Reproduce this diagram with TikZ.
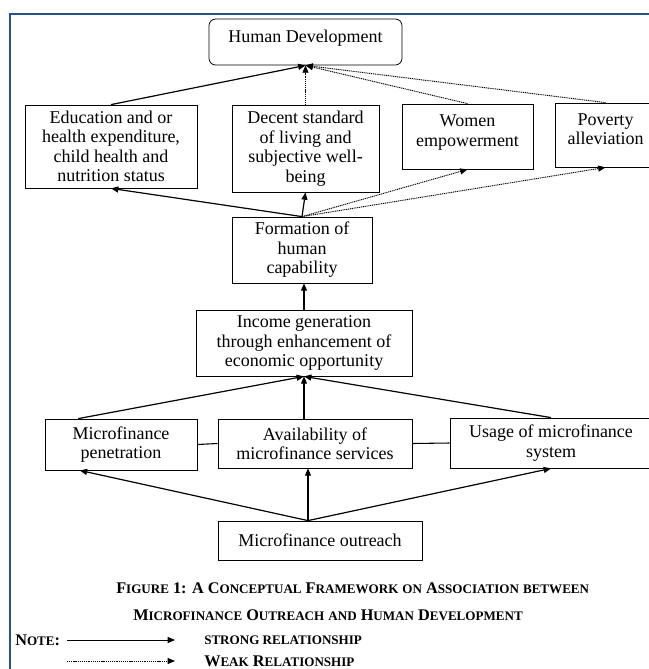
\documentclass[tikz,border=0pt]{standalone}
\usepackage{fontspec}
\setmainfont{Liberation Serif}
\usetikzlibrary{arrows.meta, calc}
\definecolor{frameblue}{RGB}{36, 82, 140}
\newcommand{\smcap}[1]{{\fontsize{9.8pt}{11pt}\selectfont\MakeUppercase{#1}}}

\begin{document}
\begin{tikzpicture}[x=0.75pt, y=-0.75pt,
  box/.style={draw, line width=0.6pt, inner sep=2pt, align=center, font=\fontsize{13.5pt}{14.6pt}\selectfont},
  strong/.style={-{Triangle[length=5.5pt, width=4.5pt]}, line width=0.9pt},
  weak/.style={-{Triangle[length=5.5pt, width=4.5pt]}, line width=0.7pt, dash pattern=on 0.8pt off 0.6pt},
  caption/.style={font=\fontsize{12.2pt}{13pt}\selectfont\bfseries, anchor=west, inner sep=0pt}]
  \useasboundingbox (0,0) rectangle (649,669);

  % frame
  \draw[frameblue, line width=1.6pt] (649,14) -- (10,14) -- (10,669);

  % outcome boxes
  \node[box, rounded corners=5pt, minimum width=144.75pt, minimum height=34.5pt, text height=13pt, text depth=12pt] (hd) at (305.5,42) {Human Development};
  \node[box, minimum width=129pt, minimum height=62.25pt] (edu) at (111,146.5) {Education and or\\health expenditure,\\child health and\\nutrition status};
  \node[box, minimum width=110.25pt, minimum height=65.25pt] (living) at (305.5,148.5) {Decent standard\\of living and\\subjective well-\\being};
  \node[box, minimum width=98.25pt, minimum height=48.75pt] (women) at (467.5,136.5) {Women\\empowerment\\[-6pt]\mbox{}};
  \node[box, minimum width=75.75pt, minimum height=48pt] (poverty) at (605.5,135) {Poverty\\alleviation\\[-6pt]\mbox{}};

  % middle chain
  \node[box, minimum width=105pt, minimum height=49.5pt] (capability) at (302,250) {Formation of\\human\\capability};
  \node[box, minimum width=162pt, minimum height=49.5pt] (income) at (304,343) {Income generation\\through enhancement of\\economic opportunity};

  % outreach dimensions
  \node[box, minimum width=114pt, minimum height=38.25pt] (penetration) at (121,444.5) {Microfinance\\penetration};
  \node[box, minimum width=145.5pt, minimum height=36.75pt] (availability) at (315,443.5) {Availability of\\microfinance services};
  \node[box, minimum width=151.5pt, minimum height=37.5pt] (usage) at (551,443) {Usage of microfinance\\system};
  \node[box, minimum width=153pt, minimum height=29.25pt] (outreach) at (320,540.5) {Microfinance outreach};

  % links to human development
  \draw[strong] (edu.north) -- (hd.south);
  \draw[weak] (living.north) -- (hd.south);
  \draw[weak] (women.north) -- (hd.south);
  \draw[weak] (poverty.north) -- (hd.south);

  % links from capability
  \draw[strong] (capability.north) -- (edu.south);
  \draw[strong] (capability.north) -- (living.south);
  \draw[weak] (capability.north) -- (women.south);
  \draw[weak] (capability.north) -- (poverty.south);
  \draw[strong] (income.north) -- (income.north |- capability.south);

  % links into income
  \draw[strong] ($(penetration.north west)!0.22!(penetration.north east)$) -- (income.south);
  \draw[strong] (income.south |- availability.north) -- (income.south);
  \draw[strong] (usage.north) -- (income.south);
  \draw[line width=0.8pt] (penetration.east) -- (availability.west);
  \draw[line width=0.8pt] (availability.east) -- (usage.west);

  % links from outreach
  \coordinate (root) at ($(outreach.north)+(-12,0)$);
  \draw[strong] (root) -- ($(penetration.south west)!0.23!(penetration.south east)$);
  \draw[strong] (root) -- (root |- availability.south);
  \draw[strong] (root) -- (usage.south);

  % caption
  \node[caption] (cap1) at (116,588) {F\smcap{igure} 1: A C\smcap{onceptual} F\smcap{ramework} \smcap{on} A\smcap{ssociation} \smcap{between}};
  \node[caption] (cap2) at (133,615) {M\smcap{icrofinance} O\smcap{utreach} \smcap{and} H\smcap{uman} D\smcap{evelopment}};

  % legend
  \node[caption] (note) at (15,640) {N\smcap{ote}:};
  \coordinate (s0) at (67,640);
  \coordinate (s1) at (175,640);
  \draw[strong, line width=0.7pt] (s0) -- (s1);
  \node[caption] (strongtxt) at (204,640) {\smcap{strong relationship}};
  \coordinate (w0) at (67,661);
  \coordinate (w1) at (175,661);
  \draw[weak, line width=0.5pt] (w0) -- (w1);
  \node[caption] (weaktxt) at (204,661) {W\smcap{eak} R\smcap{elationship}};
\end{tikzpicture}
\end{document}
